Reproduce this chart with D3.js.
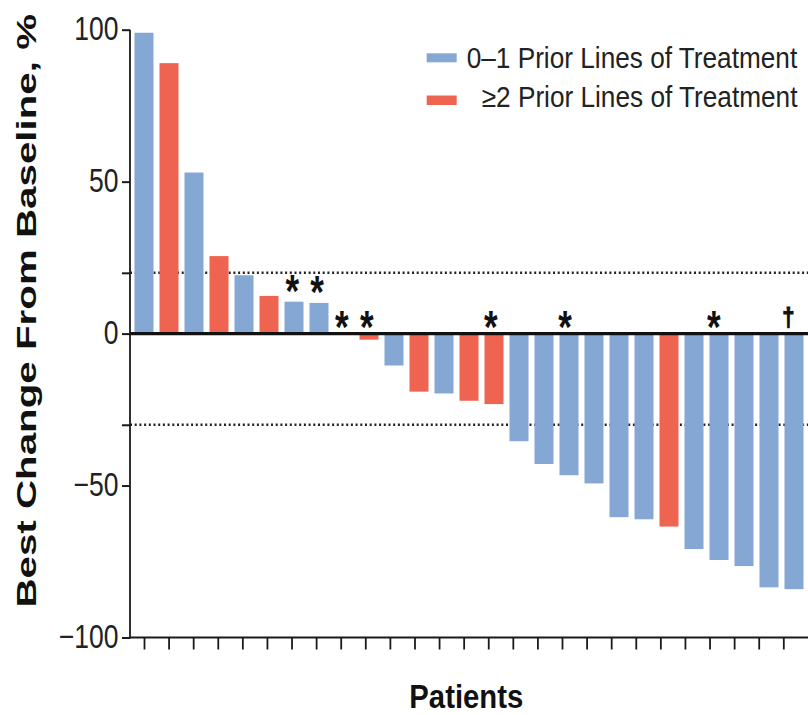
<!DOCTYPE html>
<html>
<head>
<meta charset="utf-8">
<script src="https://cdn.jsdelivr.net/npm/d3@7"></script>
<style>
  html, body { margin: 0; padding: 0; background: #fff; }
  svg { display: block; font-family: "Liberation Sans", Arial, Helvetica, sans-serif; }
</style>
</head>
<body>
<svg id="chart" width="808" height="715"></svg>
<script>
// Waterfall of best percent change from baseline, one bar per patient
const patients = [1, 2, 3, 4, 5, 6, 7, 8, 9, 10, 11, 12, 13, 14, 15, 16, 17, 18, 19, 20, 21, 22, 23, 24, 25, 26, 27];
const bestChange = [99, 89, 53, 25.5, 19.2, 12.4, 10.5, 10.1, 0, -2, -10.5, -19.1, -19.7, -22.1, -23.2,
                    -35.4, -42.9, -46.6, -49.3, -60.4, -61.1, -63.5, -70.9, -74.5, -76.5, -83.5, -84.1];
// "A" = 0–1 prior lines, "B" = ≥2 prior lines
const priorGroup = ["A", "B", "A", "B", "A", "B", "A", "A", "A", "B", "A", "B", "A", "B", "B",
                    "A", "A", "A", "A", "A", "A", "B", "A", "A", "A", "A", "A"];
const footnoteMark = ["", "", "", "", "", "", "*", "*", "*", "*", "", "", "", "", "*",
                      "", "", "*", "", "", "", "", "", "*", "", "", "†"];
const yTicks = [100, 50, 0, -50, -100];
const refLines = [20, -30];
const legendLabels = ["0–1 Prior Lines of Treatment", "≥2 Prior Lines of Treatment"];
const groupKeys = ["A", "B"];

const colors = { A: "#85A7D4", B: "#EF6450" };
const axisColor = "#1a1a1a";

const svg = d3.select("#chart");
const plotLeft = 130, plotRight = 808;

const y = d3.scaleLinear().domain([-100, 100]).range([637.5, 29.7]);
const x = d3.scaleBand().domain(patients).range([131.5, 806.5]).paddingInner(0.24).paddingOuter(0.12);
const xTick = d3.scalePoint().domain(patients).range([144, 783.3]);
const xMark = d3.scalePoint().domain(patients).range([143.5, 788.3]);

// dotted response thresholds, behind the bars
svg.append("g").selectAll("line").data(refLines).join("line")
  .attr("x1", plotLeft).attr("x2", plotRight)
  .attr("y1", d => y(d)).attr("y2", d => y(d))
  .attr("stroke", "#222").attr("stroke-width", 2.4)
  .attr("stroke-dasharray", "2,2.7");

// bars
const rows = patients.map((p, i) => ({ p, v: bestChange[i], g: priorGroup[i], m: footnoteMark[i] }));
svg.append("g").selectAll("rect").data(rows).join("rect")
  .attr("x", d => x(d.p))
  .attr("width", x.bandwidth())
  .attr("y", d => y(Math.max(0, d.v)))
  .attr("height", d => Math.abs(y(d.v) - y(0)))
  .attr("fill", d => colors[d.g]);

// y axis
const yAxis = svg.append("g").attr("transform", `translate(${plotLeft},0)`)
  .call(d3.axisLeft(y).tickValues(yTicks.concat(refLines)).tickSize(8).tickFormat(""));
yAxis.select(".domain").attr("stroke", axisColor).attr("stroke-width", 1.8)
  .attr("d", `M0,${y(100)}V${y(-100) + 1}`);
yAxis.selectAll(".tick line").attr("stroke", axisColor).attr("stroke-width", 2);

// y tick labels, tall narrow numerals
svg.append("g").selectAll("g").data(yTicks).join("g")
  .attr("transform", d => `translate(118.5,${y(d) + 10.6}) scale(1,1.26)`)
  .append("text")
  .attr("text-anchor", "end")
  .attr("font-size", 26.5)
  .attr("fill", "#222")
  .text(d => d < 0 ? "\u2212" + Math.abs(d) : d);

// bottom axis with one tick per patient
const xAxis = svg.append("g").attr("transform", `translate(0,${y(-100)})`)
  .call(d3.axisBottom(xTick).tickSize(12).tickFormat(""));
xAxis.select(".domain").attr("stroke", axisColor).attr("stroke-width", 2.2)
  .attr("d", `M${plotLeft},0H${plotRight}`);
xAxis.selectAll(".tick line").attr("stroke", axisColor).attr("stroke-width", 1.8);

// zero line
svg.append("line")
  .attr("x1", plotLeft).attr("x2", plotRight)
  .attr("y1", y(0)).attr("y2", y(0))
  .attr("stroke", "#111").attr("stroke-width", 3.2);

// footnote marks: centred 20px above a positive bar, 15px above zero otherwise
const marks = rows.filter(d => d.m !== "");
svg.append("g").selectAll("g").data(marks).join("g")
  .attr("transform", d => {
    const centre = d.v > 0 ? y(d.v) - 20 : y(0) - 15.3;
    return d.m === "*"
      ? `translate(${xMark(d.p)},${centre + 25}) scale(1,1.3)`
      : `translate(${xMark(d.p)},${centre + 8}) scale(1,1.2)`;
  })
  .append("text")
  .attr("text-anchor", "middle")
  .attr("font-weight", "bold")
  .attr("font-size", d => d.m === "*" ? 35 : 22)
  .attr("fill", "#111")
  .attr("stroke", d => d.m === "*" ? "none" : "#111")
  .attr("stroke-width", 0.9)
  .text(d => d.m);

// axis titles
svg.append("g").attr("transform", "translate(35.5,310.8) rotate(-90) scale(1.44,1)")
  .append("text")
  .attr("text-anchor", "middle")
  .attr("font-weight", "bold")
  .attr("font-size", 28)
  .attr("fill", "#111")
  .text("Best Change From Baseline, %");

svg.append("g").attr("transform", "translate(466.3,707.5) scale(1,1.15)")
  .append("text")
  .attr("text-anchor", "middle")
  .attr("font-weight", "bold")
  .attr("font-size", 29.3)
  .attr("fill", "#111")
  .text("Patients");

// legend
const legendRows = [
  { key: groupKeys[0], label: legendLabels[0], textX: 466.7, base: 68.3, swatchY: 53.3, swatchH: 9 },
  { key: groupKeys[1], label: legendLabels[1], textX: 481.7, base: 106.7, swatchY: 95.5, swatchH: 9.5 }
];
const legend = svg.append("g");
legend.selectAll("rect").data(legendRows).join("rect")
  .attr("x", 426.7).attr("width", 30)
  .attr("y", d => d.swatchY).attr("height", d => d.swatchH)
  .attr("fill", d => colors[d.key]);
legend.selectAll("g").data(legendRows).join("g")
  .attr("transform", d => `translate(${d.textX},${d.base}) scale(1,1.1)`)
  .append("text")
  .attr("font-size", 26.2)
  .attr("fill", "#222")
  .text(d => d.label);
</script>
</body>
</html>
